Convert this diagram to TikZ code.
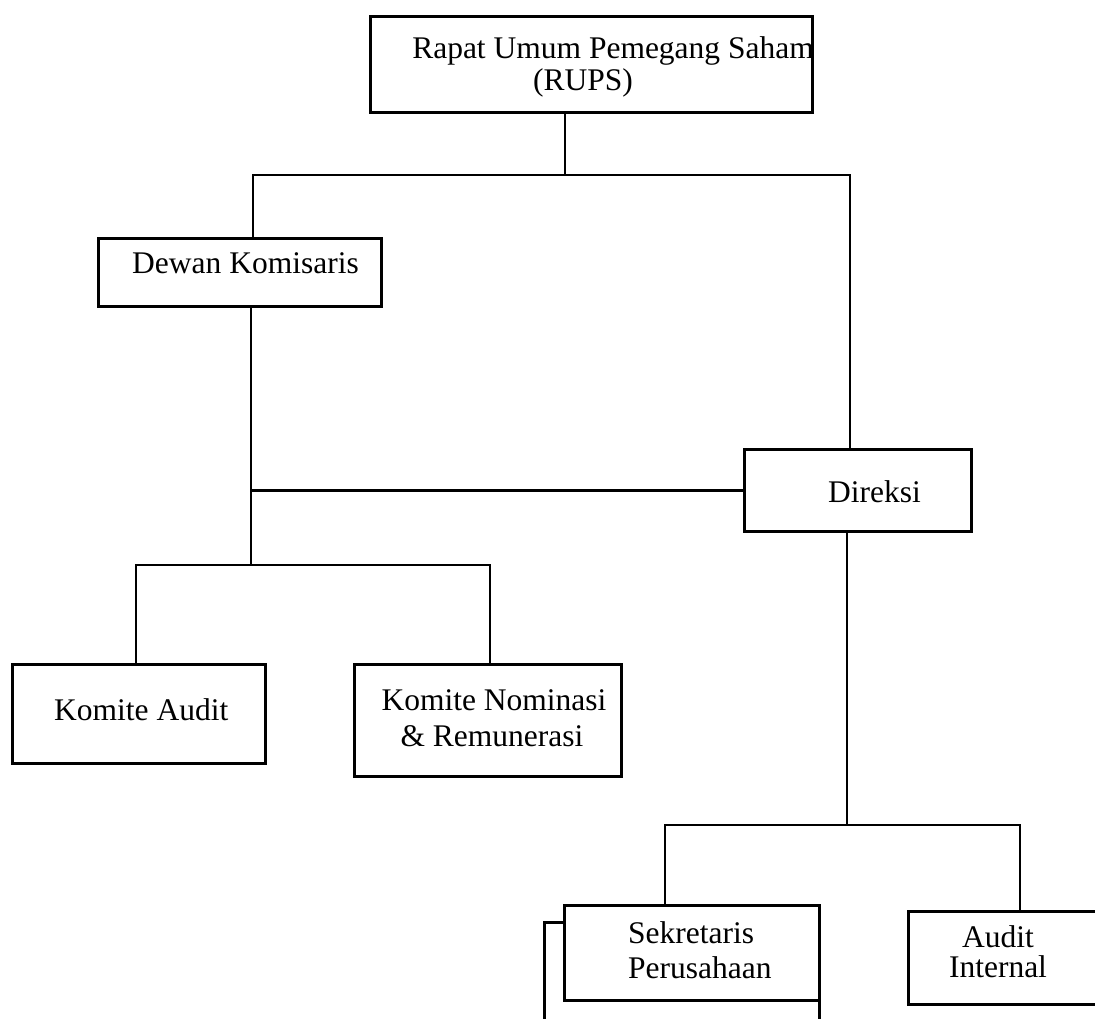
\documentclass[tikz,border=0pt]{standalone}
\usepackage{fontspec}
\setmainfont{Liberation Serif}
\begin{document}
\begin{tikzpicture}[x=1pt,y=-1pt,
  box/.style={draw, line width=2.8pt, inner sep=0pt, anchor=north west, fill=white},
  conn/.style={line width=2.8pt},
  lbl/.style={inner sep=0pt, font=\fontsize{31.5}{35}\selectfont}]
\useasboundingbox (0,0) rectangle (1095,1018);
\fill[white] (0,0) rectangle (1095,1018);
\clip (0,0) rectangle (1095,1018);
% boxes
\node[box, minimum width=442pt, minimum height=96pt] (rups) at (369,15) {};
\node[box, minimum width=283pt, minimum height=68pt] (dewan) at (97,237) {};
\node[box, minimum width=227pt, minimum height=82pt] (direksi) at (743,448) {};
\node[box, minimum width=253pt, minimum height=99pt] (kaudit) at (11,663) {};
\node[box, minimum width=267pt, minimum height=112pt] (knom) at (353,663) {};
\node[box, minimum width=275pt, minimum height=130pt] (sekback) at (543,921) {};
\node[box, minimum width=255pt, minimum height=95pt] (sek) at (563,904) {};
\node[box, minimum width=220pt, minimum height=93pt] (ai) at (907,910) {};
% labels
\node[lbl, anchor=base east] (t1) at (814,58) {Rapat Umum Pemegang Saham};
\node[lbl, anchor=base] (t2) at (583,90) {(RUPS)};
\node[lbl, anchor=base west] (t3) at (132,273) {Dewan Komisaris};
\node[lbl, anchor=base west] (t4) at (828,502) {Direksi};
\node[lbl, anchor=base west] (t5) at (54,720) {Komite Audit};
\node[lbl, anchor=base] (t6) at (494,710) {Komite Nominasi};
\node[lbl, anchor=base] (t7) at (492,746) {\& Remunerasi};
\node[lbl, anchor=base west] (t8) at (628,943) {Sekretaris};
\node[lbl, anchor=base west] (t9) at (628,978) {Perusahaan};
\node[lbl, anchor=base] (t10) at (998,947) {Audit};
\node[lbl, anchor=base] (t11) at (998,977) {Internal};
% connectors
\draw[conn] (565,0 |- rups.south) -- (565,175);
\draw[conn] (253,0 |- dewan.north) |- (850,175) -- (850,0 |- direksi.north);
\draw[conn] (251,0 |- dewan.south) -- (251,565);
\draw[conn] (251,0 |- direksi.west) -- (direksi.west);
\draw[conn] (136,0 |- kaudit.north) |- (490,565) -- (490,0 |- knom.north);
\draw[conn] (847,0 |- direksi.south) -- (847,825);
\draw[conn] (665,0 |- sek.north) |- (1020,825) -- (1020,0 |- ai.north);
\end{tikzpicture}
\end{document}
